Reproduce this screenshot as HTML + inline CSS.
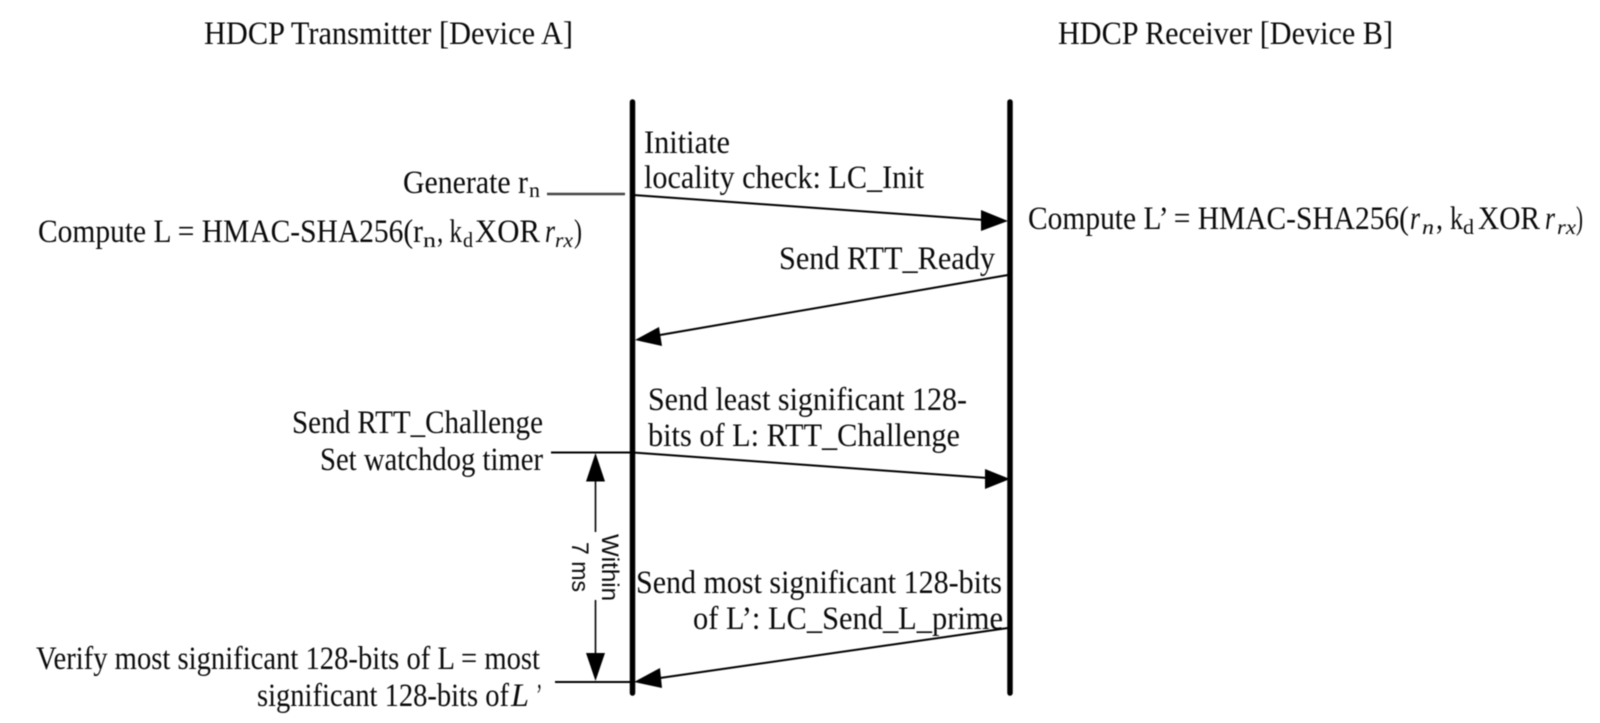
<!DOCTYPE html>
<html>
<head>
<meta charset="utf-8">
<style>
html,body{margin:0;padding:0;background:#fff;width:1600px;height:723px;overflow:hidden}
svg{display:block;filter:blur(0.6px)}
text{font-family:"Liberation Serif",serif;font-size:33px;fill:#0a0a0a}
.s{font-size:21px}
.i{font-style:italic}
.a{font-family:"Liberation Sans",sans-serif;font-size:24px}
</style>
</head>
<body>
<svg width="1600" height="723" viewBox="0 0 1600 723" xmlns="http://www.w3.org/2000/svg">
<rect width="1600" height="723" fill="#fff"/>

<g transform="translate(0,1)">
<!-- Titles -->
<text x="204" y="43" textLength="369" lengthAdjust="spacingAndGlyphs">HDCP Transmitter [Device A]</text>
<text x="1058" y="43" textLength="335" lengthAdjust="spacingAndGlyphs">HDCP Receiver [Device B]</text>

<!-- Generate rn -->
<text x="403" y="192" textLength="125" lengthAdjust="spacingAndGlyphs">Generate r</text>
<text x="529" y="196" class="s" textLength="11" lengthAdjust="spacingAndGlyphs">n</text>

<!-- Compute L -->
<text x="38" y="241" textLength="385" lengthAdjust="spacingAndGlyphs">Compute L = HMAC-SHA256(r</text>
<text x="423" y="246" class="s" textLength="13" lengthAdjust="spacingAndGlyphs">n</text>
<text x="437" y="241" textLength="25" lengthAdjust="spacingAndGlyphs">, k</text>
<text x="463" y="246" class="s" textLength="10" lengthAdjust="spacingAndGlyphs">d</text>
<text x="475" y="241" textLength="65" lengthAdjust="spacingAndGlyphs">XOR</text>
<text x="545" y="241" class="i" textLength="10" lengthAdjust="spacingAndGlyphs">r</text>
<text x="555" y="246" class="s i" textLength="18" lengthAdjust="spacingAndGlyphs">rx</text>
<text x="574" y="241" textLength="8" lengthAdjust="spacingAndGlyphs">)</text>

<!-- Compute L' -->
<text x="1028" y="228" textLength="381" lengthAdjust="spacingAndGlyphs">Compute L’ = HMAC-SHA256(</text>
<text x="1410" y="228" class="i" textLength="10" lengthAdjust="spacingAndGlyphs">r</text>
<text x="1422" y="233" class="s i" textLength="12" lengthAdjust="spacingAndGlyphs">n</text>
<text x="1436" y="228" textLength="7" lengthAdjust="spacingAndGlyphs">,</text>
<text x="1450" y="228" textLength="13" lengthAdjust="spacingAndGlyphs">k</text>
<text x="1463" y="233" class="s" textLength="11" lengthAdjust="spacingAndGlyphs">d</text>
<text x="1478" y="228" textLength="62" lengthAdjust="spacingAndGlyphs">XOR</text>
<text x="1545" y="228" class="i" textLength="10" lengthAdjust="spacingAndGlyphs">r</text>
<text x="1557" y="233" class="s i" textLength="19" lengthAdjust="spacingAndGlyphs">rx</text>
<text x="1576" y="228" textLength="7" lengthAdjust="spacingAndGlyphs">)</text>

<!-- Message labels -->
<text x="644" y="152" textLength="86" lengthAdjust="spacingAndGlyphs">Initiate</text>
<text x="644" y="187" textLength="280" lengthAdjust="spacingAndGlyphs">locality check: LC_Init</text>
<text x="779" y="268" textLength="216" lengthAdjust="spacingAndGlyphs">Send RTT_Ready</text>
<text x="648" y="409" textLength="319" lengthAdjust="spacingAndGlyphs">Send least significant 128-</text>
<text x="648" y="445" textLength="312" lengthAdjust="spacingAndGlyphs">bits of L: RTT_Challenge</text>
<text x="292" y="432" textLength="251" lengthAdjust="spacingAndGlyphs">Send RTT_Challenge</text>
<text x="320" y="469" textLength="223" lengthAdjust="spacingAndGlyphs">Set watchdog timer</text>
<text x="636" y="592" textLength="366" lengthAdjust="spacingAndGlyphs">Send most significant 128-bits</text>
<text x="693" y="628" textLength="310" lengthAdjust="spacingAndGlyphs">of L’: LC_Send_L_prime</text>

<!-- Verify -->
<text x="36" y="668" textLength="504" lengthAdjust="spacingAndGlyphs">Verify most significant 128-bits of L = most</text>
<text x="257" y="705" textLength="252" lengthAdjust="spacingAndGlyphs">significant 128-bits of</text>
<text x="511" y="705" class="i" textLength="18" lengthAdjust="spacingAndGlyphs">L</text>
<text x="535" y="705" class="i" textLength="6" lengthAdjust="spacingAndGlyphs">’</text>
</g>

<!-- Lifelines -->
<line x1="632.5" y1="102" x2="632.5" y2="693" stroke="#000" stroke-width="5.5" stroke-linecap="round"/>
<line x1="1010" y1="102" x2="1010" y2="693" stroke="#000" stroke-width="5.5" stroke-linecap="round"/>

<!-- Generate line -->
<line x1="547" y1="194" x2="625" y2="194" stroke="#444" stroke-width="2.5"/>

<!-- Message 1 -->
<line x1="633" y1="195" x2="985" y2="220" stroke="#000" stroke-width="2"/>
<polygon points="1008,221 981,210 981,231" fill="#000"/>

<!-- Message 2 -->
<line x1="1008" y1="275" x2="660" y2="335" stroke="#000" stroke-width="2"/>
<polygon points="635,340 659,327 662,346" fill="#000"/>

<!-- Message 3 -->
<line x1="551" y1="452.5" x2="633" y2="452.5" stroke="#000" stroke-width="2"/>
<line x1="633" y1="452.5" x2="988" y2="478" stroke="#000" stroke-width="2"/>
<polygon points="1010,479 985,469 985,489" fill="#000"/>

<!-- Within 7 ms -->
<line x1="595.5" y1="470" x2="595.5" y2="532" stroke="#000" stroke-width="1.6"/>
<line x1="595.5" y1="600" x2="595.5" y2="665" stroke="#000" stroke-width="1.6"/>
<polygon points="595.5,453 586,481.5 605,481.5" fill="#000"/>
<polygon points="595.5,681 586,653 605,653" fill="#000"/>
<text class="a" transform="translate(602,534) rotate(90)" textLength="67" lengthAdjust="spacingAndGlyphs">Within</text>
<text class="a" transform="translate(572,542) rotate(90)" textLength="50" lengthAdjust="spacingAndGlyphs">7 ms</text>

<!-- Message 4 -->
<line x1="1008" y1="628" x2="660" y2="678" stroke="#000" stroke-width="2"/>
<polygon points="634,682 660,668 662,688" fill="#000"/>

<!-- Verify line -->
<line x1="555" y1="682" x2="633" y2="682" stroke="#000" stroke-width="2"/>
</svg>
</body>
</html>
